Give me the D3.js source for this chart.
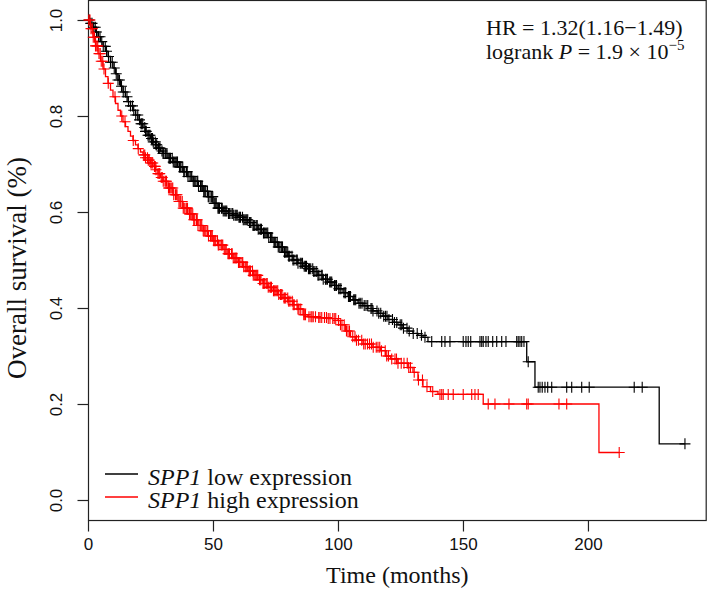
<!DOCTYPE html>
<html><head><meta charset="utf-8">
<script src="https://cdn.jsdelivr.net/npm/d3@7"></script>
<style>
html,body{margin:0;padding:0;background:#fff;}
svg{display:block;}
</style></head>
<body><svg id="chart" width="709" height="594"></svg>
<script>
// ---------------- data ----------------
const timeTicks = [0, 50, 100, 150, 200];
const survTicks = [0.0, 0.2, 0.4, 0.6, 0.8, 1.0];
const survTickLabels = ["0.0", "0.2", "0.4", "0.6", "0.8", "1.0"];
const seriesNames = ["low expression", "high expression"];
const geneName = "SPP1";

// SPP1 low expression (black): step knots
const lowTimes = [0,1,2,3,4,5,6,7,8,9,10,11,12,13,14,15,16,17,18,19,20,21,22,23,24,25,26,27,28,29,30,
  32,34,36,38,40,42,44,46,48,50,52,54,56,58,60,62,64,66,68,70,72,74,76,78,80,82,84,86,88,90,92,94,96,98,
  100,102,104,106,108,110,112,114,116,118,120,122,124,126,128,130,132,134,136,175.5,178.8,228.5];
const lowSurv = [1.000,0.993,0.985,0.975,0.965,0.955,0.945,0.935,0.924,0.912,0.900,0.888,0.875,0.862,0.850,0.840,0.830,0.821,0.812,0.802,0.792,0.784,0.776,0.768,0.760,0.753,0.746,0.740,0.733,0.727,0.722,
  0.712,0.704,0.694,0.684,0.674,0.664,0.654,0.643,0.632,0.618,0.608,0.602,0.597,0.593,0.589,0.584,0.578,0.572,0.564,0.556,0.547,0.537,0.527,0.516,0.508,0.500,0.493,0.487,0.482,0.476,0.468,0.460,0.454,0.447,
  0.440,0.432,0.424,0.417,0.410,0.405,0.399,0.394,0.389,0.383,0.376,0.370,0.365,0.358,0.352,0.347,0.343,0.339,0.330,0.288,0.235,0.117];
const lowCensor = [0.5,1.1,1.6,2.3,2.9,3.4,4.2,4.8,5.5,6.1,6.9,7.4,8.2,9.0,9.7,10.5,11.3,12.0,12.6,13.4,14.1,14.9,15.6,16.2,17.0,17.8,18.3,19.1,19.9,20.6,
  21.2,21.9,22.7,23.3,24.0,24.8,25.4,26.1,26.9,27.5,28.2,28.8,29.6,30.3,30.9,31.6,32.4,33.0,33.7,34.5,35.1,35.8,36.6,37.2,37.9,38.7,39.4,40.0,
  40.8,41.5,42.1,42.9,43.6,44.2,45.0,45.7,46.3,47.1,47.8,48.4,49.2,49.9,50.5,51.3,52.0,52.6,53.4,54.1,54.7,55.5,56.2,56.8,57.6,58.3,58.9,59.7,
  60.4,61.0,61.8,62.5,63.1,63.9,64.6,65.2,66.0,66.7,67.3,68.1,68.8,69.4,70.2,70.9,71.5,72.3,73.0,73.6,74.4,75.1,75.7,76.5,77.2,77.8,78.6,79.3,79.9,
  80.7,81.6,82.4,83.3,84.0,84.9,85.8,86.5,87.4,88.2,89.1,89.9,90.8,91.5,92.4,93.3,94.1,95.0,95.8,96.7,97.5,98.6,99.4,100.3,101.2,102.4,103.1,104.2,105.0,
  106.3,107.1,108.4,109.6,110.5,111.9,113.2,114.0,115.6,117.1,118.3,119.0,120.4,121.8,123.5,124.9,126.2,127.6,128.5,130.1,131.7,133.4,134.8,
  137.5,141.5,142.8,144.8,150.1,151.2,152.1,153.1,156.8,157.5,158.1,159.2,160.1,161.9,163.5,165.5,167.2,171.5,172.1,172.8,173.5,174.4,
  176.1,180.1,180.8,181.7,182.8,183.9,185.5,191.5,193.5,197.5,200.5,218.5,221.7,238.8,
  21.5,23.0,24.4,25.8,27.2,28.5,30.0,31.2,32.7,34.1,35.5,36.9,38.3,39.7,41.2,42.5,43.9,45.3,46.7,48.1,49.5,50.9,52.3,53.7,55.1,56.5,57.9,59.3,
  60.7,62.1,63.5,64.9,66.3,67.7,69.1,70.5,71.9,73.3,74.7,76.1,77.5,78.9,80.3,82.0,83.7,85.3,87.0,88.6,90.3,92.0,93.7,95.3,97.1,98.9,
  100.8,102.8,104.6,106.7,108.9,111.2,113.6,116.3,119.6,122.6,125.5];

// SPP1 high expression (red): step knots
const highTimes = [0,1,2,3,4,5,6,7,8,9,10,11,12,13,14,15,16,17,18,19,20,21,22,23,24,25,26,27,28,29,30,
  32,34,36,38,40,42,44,46,48,50,52,54,56,58,60,62,64,66,68,70,72,74,76,78,80,82,84,86,88,92,96,
  100,101,103,105,107,110,114,117,119,121,124,128,130,132,134,137,140,158.1,204.4];
const highSurv = [1.000,0.982,0.964,0.946,0.930,0.914,0.898,0.882,0.868,0.854,0.840,0.826,0.812,0.800,0.788,0.778,0.768,0.758,0.749,0.740,0.732,0.725,0.719,0.713,0.708,0.702,0.695,0.688,0.680,0.672,0.664,
  0.650,0.636,0.622,0.608,0.596,0.584,0.572,0.561,0.550,0.540,0.531,0.522,0.513,0.504,0.495,0.486,0.477,0.468,0.459,0.451,0.443,0.436,0.428,0.421,0.414,0.407,0.398,0.386,0.382,0.380,0.378,
  0.374,0.365,0.352,0.340,0.333,0.325,0.318,0.311,0.300,0.294,0.285,0.276,0.266,0.250,0.236,0.226,0.220,0.200,0.099];
const highCensor = [0.3,0.8,1.2,1.7,2.1,2.6,3.0,3.5,3.9,4.4,4.9,5.3,5.9,6.4,8.1,10.8,13.5,14.8,18.1,20.1,
  22.3,23.0,23.8,24.5,25.1,25.9,26.6,27.2,28.0,28.7,29.3,30.1,30.8,31.4,32.2,32.9,33.5,34.3,35.0,35.6,36.4,37.1,37.7,38.5,39.2,39.8,
  40.6,41.3,41.9,42.7,43.4,44.0,44.8,45.5,46.1,46.9,47.6,48.2,49.0,49.7,50.3,51.1,51.8,52.4,53.2,53.9,54.5,55.3,56.0,56.6,57.4,58.1,58.7,59.5,
  60.2,60.8,61.6,62.3,62.9,63.7,64.4,65.0,65.8,66.5,67.1,67.9,68.6,69.2,70.0,70.7,71.3,72.1,72.8,73.4,74.2,74.9,75.5,76.3,77.0,77.6,78.4,79.1,79.9,
  80.8,81.7,82.5,83.6,84.4,85.1,86.3,87.0,88.4,89.2,90.1,91.0,92.3,93.5,94.6,95.4,96.8,97.9,99.1,100.2,101.6,102.5,103.4,104.6,105.9,106.8,
  108.2,109.5,110.3,111.8,112.6,114.1,115.3,116.7,117.4,118.9,120.2,121.5,122.8,124.0,125.3,126.4,127.7,129.0,130.5,132.2,133.8,135.6,137.9,
  140.8,141.5,142.1,144.1,146.1,150.1,153.5,154.8,156.1,160.1,162.8,168.4,175.5,176.1,188.4,191.5,212.5,
  22.7,24.1,25.5,26.9,28.4,29.7,31.1,32.6,33.9,35.3,36.8,38.1,39.5,40.9,42.3,43.7,45.1,46.5,47.9,49.3,50.7,52.1,53.5,54.9,56.3,57.7,59.1,
  60.5,61.9,63.3,64.7,66.1,67.5,68.9,70.3,71.7,73.1,74.5,75.9,77.3,78.7,80.3,82.1,84.0,86.7,89.6,92.8,96.1,98.5,
  101.0,104.0,107.4,110.9,113.4,116.0,119.5,123.4,128.3];

// ---------------- drawing ----------------
const svg = d3.select("#chart");
const x = d3.scaleLinear().domain([0, 247.5]).range([88, 706.7]);
const y = d3.scaleLinear().domain([0, 1]).range([500, 20]);
const yLo = -0.0417, yHi = 1.0417;

const serif = "'Liberation Serif','Times New Roman',serif";
const sans = "'Liberation Sans',Arial,sans-serif";

// plot box
svg.append("rect")
  .attr("x", x(0) + 0.5).attr("y", y(yHi) + 0.5)
  .attr("width", x(247.5) - x(0) - 1).attr("height", y(yLo) - y(yHi))
  .attr("fill", "none").attr("stroke", "#222").attr("stroke-width", 1.2);

// x axis
const xAxis = d3.axisBottom(x).tickValues(timeTicks).tickSize(11).tickPadding(6).tickFormat(d3.format("d"));
const gx = svg.append("g").attr("transform", `translate(0,${y(yLo) + 0.5})`).call(xAxis);
gx.select(".domain").remove();
gx.selectAll(".tick line").attr("stroke", "#222").attr("stroke-width", 1.2);
gx.selectAll(".tick text").attr("font-family", sans).attr("font-size", 17).attr("fill", "#111");

// y axis
const yAxis = d3.axisLeft(y).tickValues(survTicks).tickSize(11).tickFormat((d, i) => survTickLabels[i]);
const gy = svg.append("g").attr("transform", `translate(${x(0) + 0.5},0)`).call(yAxis);
gy.select(".domain").remove();
gy.selectAll(".tick line").attr("stroke", "#222").attr("stroke-width", 1.2);
gy.selectAll(".tick text")
  .attr("font-family", sans).attr("font-size", 17).attr("fill", "#111")
  .attr("x", null).attr("dy", null)
  .attr("text-anchor", "middle")
  .attr("transform", "translate(-27,0) rotate(-90)");

// axis titles
svg.append("text").attr("x", (x(0) + x(247.5)) / 2).attr("y", 583)
  .attr("text-anchor", "middle").attr("font-family", serif).attr("font-size", 24).attr("fill", "#111")
  .text("Time (months)");
svg.append("text").attr("transform", `translate(26,268) rotate(-90)`)
  .attr("text-anchor", "middle").attr("font-family", serif).attr("font-size", 27).attr("fill", "#111")
  .text("Overall survival (%)");

// curves
function drawSeries(times, surv, censor, color) {
  const endT = d3.max(censor.concat(times));
  const pts = times.map((t, i) => [t, surv[i]]);
  pts.push([endT, surv[surv.length - 1]]);
  const line = d3.line().x(d => x(d[0])).y(d => y(d[1])).curve(d3.curveStepAfter);
  svg.append("path").attr("d", line(pts)).attr("fill", "none")
    .attr("stroke", color).attr("stroke-width", 1.3);
  const s = 5.5;
  const g = svg.append("g").attr("stroke", color).attr("stroke-width", 1.1).attr("fill", "none");
  censor.forEach(c => {
    const idx = d3.bisectRight(times, c) - 1;
    const cx = x(c), cy = y(surv[Math.max(0, idx)]);
    g.append("path").attr("d", `M${cx - s},${cy}H${cx + s}M${cx},${cy - s}V${cy + s}`);
  });
}
drawSeries(lowTimes, lowSurv, lowCensor, "#000000");
drawSeries(highTimes, highSurv, highCensor, "#ff0000");

// legend
const legend = [
  {name: seriesNames[0], color: "#000000", y: 474},
  {name: seriesNames[1], color: "#ff0000", y: 497}
];
legend.forEach(l => {
  svg.append("line").attr("x1", 105).attr("x2", 138).attr("y1", l.y).attr("y2", l.y)
    .attr("stroke", l.color).attr("stroke-width", 1.3);
  const t = svg.append("text").attr("x", 148).attr("y", l.y + 11)
    .attr("font-family", serif).attr("font-size", 24).attr("fill", "#111");
  t.append("tspan").attr("font-style", "italic").text(geneName);
  t.append("tspan").text(" " + l.name);
});

// statistics annotation
svg.append("text").attr("x", 486).attr("y", 35)
  .attr("font-family", serif).attr("font-size", 22).attr("fill", "#111")
  .text("HR = 1.32(1.16\u22121.49)");
const p = svg.append("text").attr("x", 486).attr("y", 59)
  .attr("font-family", serif).attr("font-size", 22).attr("fill", "#111");
p.append("tspan").text("logrank ");
p.append("tspan").attr("font-style", "italic").text("P");
p.append("tspan").text(" = 1.9 \u00d7 10");
p.append("tspan").attr("font-size", 15).attr("dy", -9).text("\u22125");
</script>
</body></html>
